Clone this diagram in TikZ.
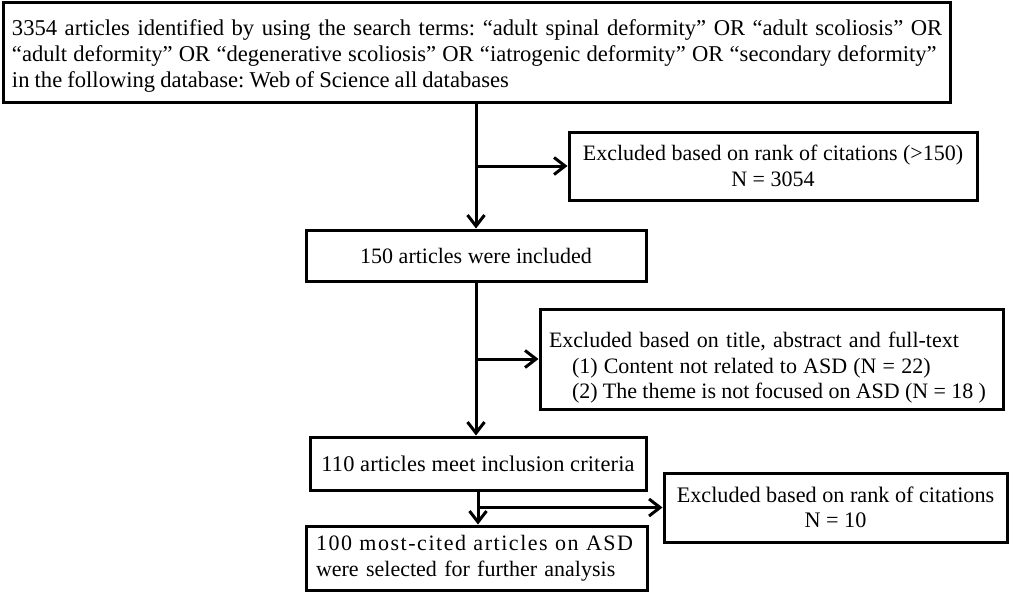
\documentclass[tikz,border=0pt]{standalone}
\usepackage{fontspec}
\setmainfont{Liberation Serif}
\usetikzlibrary{arrows.meta}
\frenchspacing
\begin{document}
\begin{tikzpicture}[x=1pt,y=-1pt,
  box/.style={draw, line width=3pt, inner ysep=0pt, inner xsep=0pt,
    font=\fontsize{22}{25.5}\selectfont, anchor=center},
  arr/.style={line width=3pt, -{Straight Barb[length=11pt,width=17pt]}}]
\useasboundingbox (0,0) rectangle (1013,592);
\node[box, font=\fontsize{22.6}{25.7}\selectfont, minimum width=947pt, minimum height=100pt, text width=929pt, align=left] (b1) at (476.5,52)
  {\rule{0pt}{24pt}\mbox{3354 articles identified by using the search terms: “adult spinal deformity” OR “adult scoliosis” OR}\\
   \mbox{\spaceskip=0.276em“adult deformity” OR “degenerative scoliosis” OR “iatrogenic deformity” OR “secondary deformity”}\\
   \mbox{\spaceskip=0.225em in the following database: Web of Science all databases}};
\node[box, minimum width=408pt, minimum height=68pt, align=center] (b2) at (773,166)
  {Excluded based on rank of citations (>150)\\N = 3054};
\node[box, minimum width=340pt, minimum height=51pt] (b3) at (476,255.5)
  {150 articles were included};
\node[box, minimum width=463pt, minimum height=100pt, text width=445pt, align=left] (b4) at (771.5,359)
  {\rule{0pt}{33pt}\mbox{Excluded based on title, abstract and full-text}\\
   \mbox{\hspace*{23pt}\spaceskip=0.28em(1) Content not related to ASD (N = 22)}\\
   \mbox{\hspace*{23pt}\spaceskip=0.24em(2) The theme is not focused on ASD (N = 18 )}};
\node[box, font=\fontsize{22.4}{25.5}\selectfont\addfontfeature{LetterSpace=0.6}, minimum width=336pt, minimum height=53pt] (b5) at (478,463.5)
  {110 articles meet inclusion criteria};
\node[box, minimum width=341pt, minimum height=64pt, text width=321pt, align=left] (b6) at (476.5,558)
  {\mbox{\addfontfeature{LetterSpace=7}100 most-cited articles on ASD}\\were selected for further analysis};
\node[box, font=\fontsize{22.2}{25.5}\selectfont, minimum width=343pt, minimum height=69pt, align=center] (b7) at (835.5,507.5)
  {Excluded based on rank of citations\\N = 10};
\draw[arr] (b3.north |- b1.south) -- (b3.north);
\draw[arr] (b3.north |- b2.west) -- (b2.west);
\draw[arr] (b3.south) -- (b5.north -| b3.south);
\draw[arr] (b3.south |- b4.west) -- (b4.west);
\draw[arr] (b5.south) -- (b6.north -| b5.south);
\draw[arr] (b5.south |- b7.west) -- (b7.west);
\end{tikzpicture}
\end{document}
